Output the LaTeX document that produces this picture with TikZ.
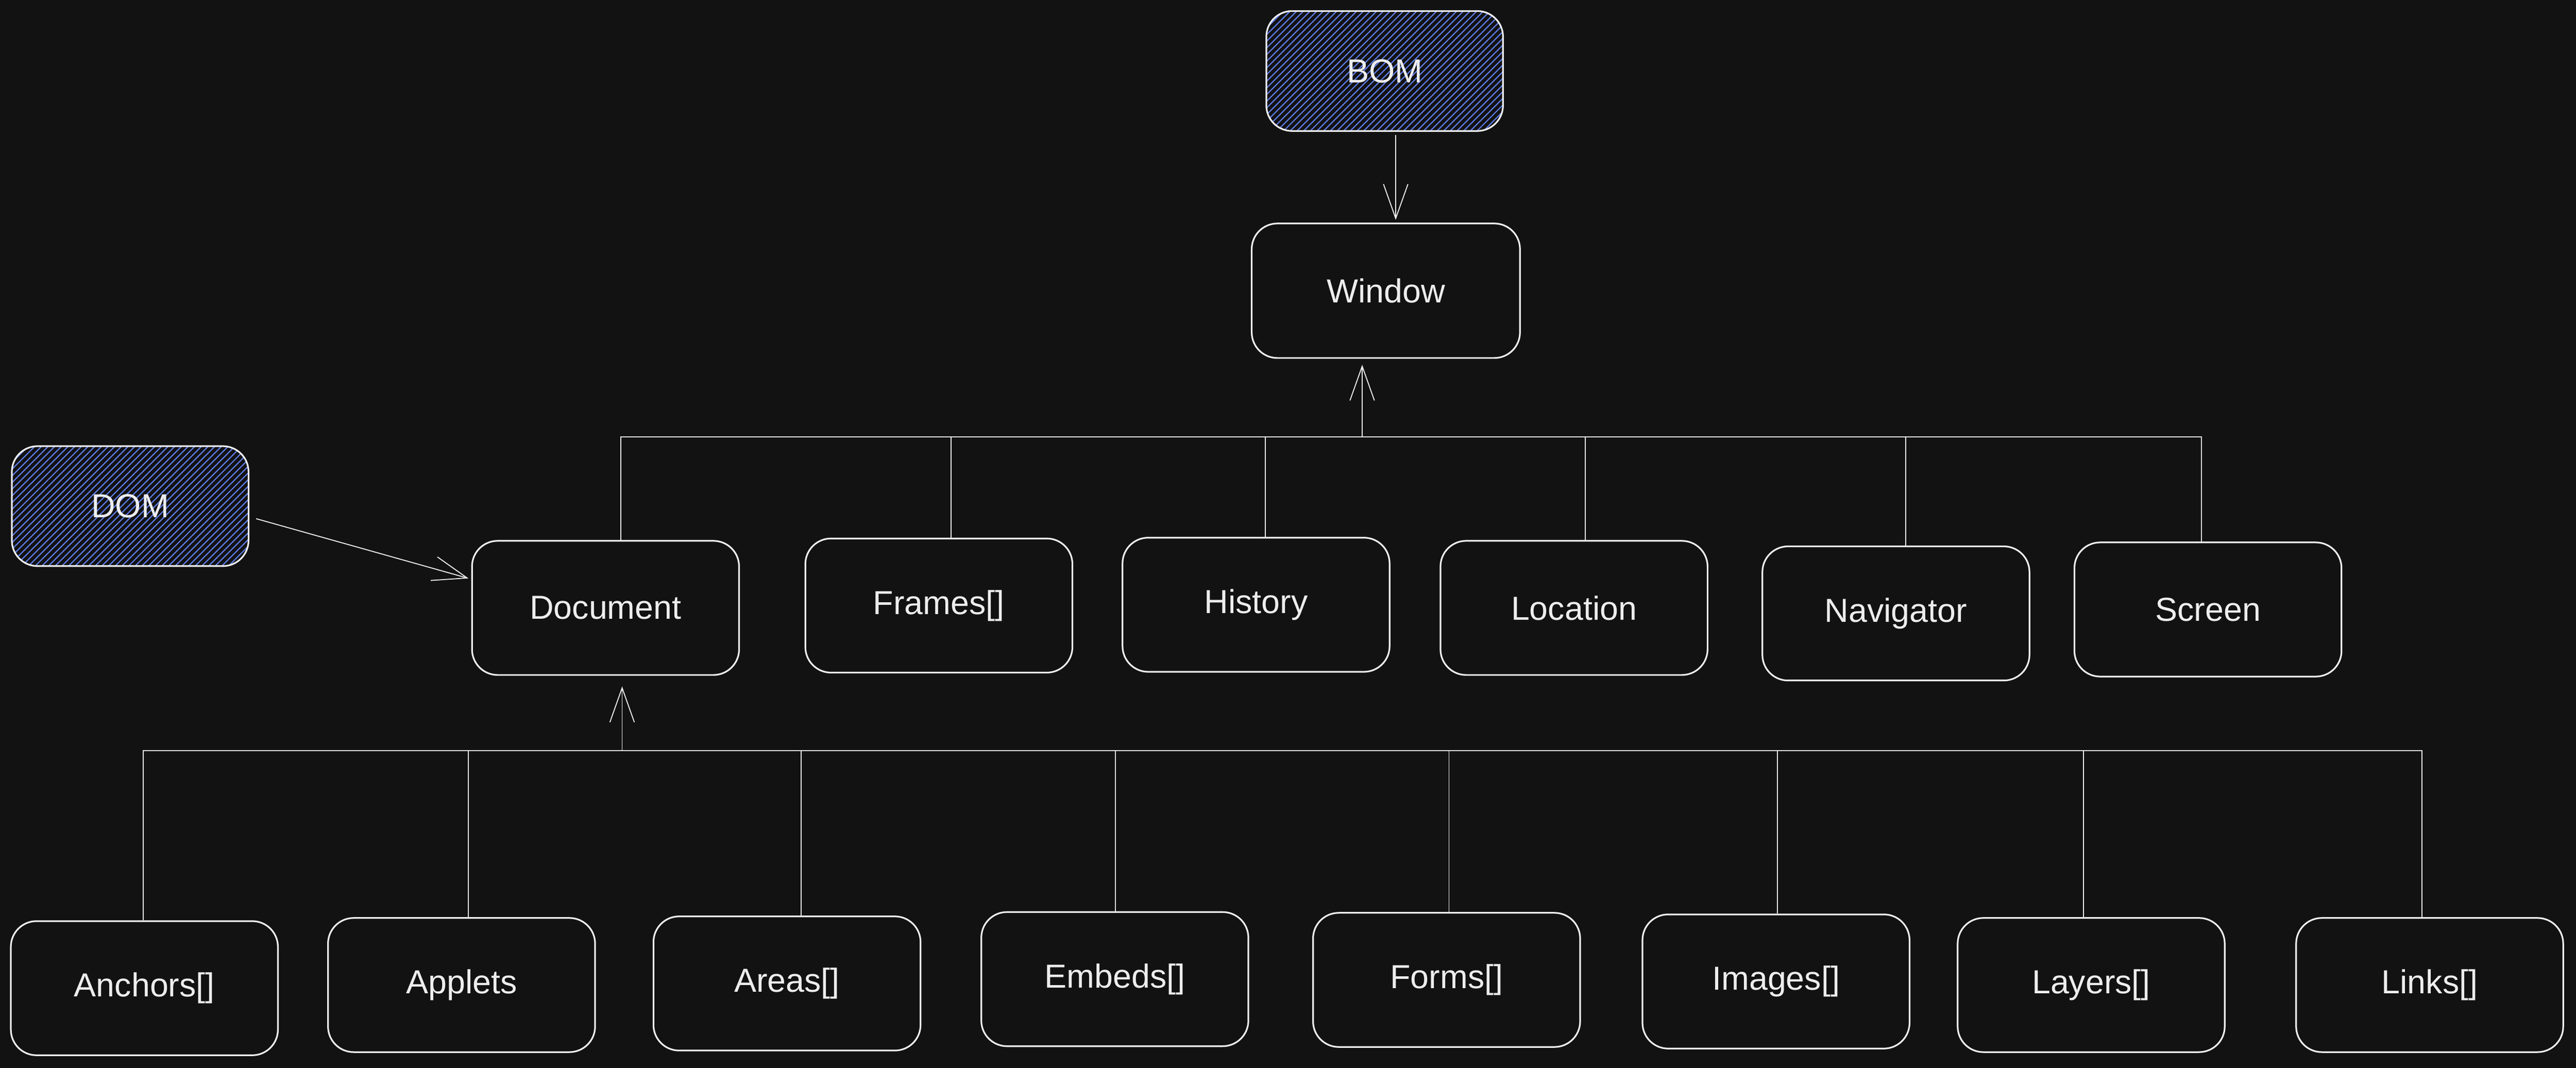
\documentclass[tikz,border=0pt]{standalone}
\usepackage{fontspec}
\setmainfont{Liberation Sans}
\usetikzlibrary{arrows.meta, patterns.meta}
\definecolor{bg}{HTML}{121212}
\definecolor{ink}{HTML}{EDEDED}
\definecolor{hatch}{HTML}{5E7BE6}

\begin{document}
\begin{tikzpicture}
\tikzstyle{every node}+=[font=\fontsize{24}{28}\selectfont, text=ink]
\tikzstyle{box}=[draw=ink, line width=1.2pt, rounded corners=0.65cm, minimum width=6.77cm, minimum height=3.40cm, inner sep=0pt]
\tikzstyle{hbox}=[box, minimum width=6.00cm, minimum height=3.04cm, pattern={Lines[angle=45,distance=3.4pt,line width=0.85pt]}, pattern color=hatch]
\tikzstyle{wire}=[draw=ink, line width=0.7pt]
\tikzstyle{arr}=[wire, -{Straight Barb[length=0.87cm,width=0.62cm]}]
\fill [bg] (0,0) rectangle (65.30,-27.07);
\useasboundingbox (0,0) rectangle (65.30,-27.07);
\node [hbox] (bom) at (35.10,-1.80) {BOM};
\node [box, minimum width=6.80cm, minimum height=3.41cm] (win) at (35.13,-7.37) {Window};
\node [hbox] (dom) at (3.30,-12.83) {DOM};
\node [box] (doc) at (15.35,-15.41) {Document};
\node [box] (frames) at (23.80,-15.35) {Frames[]};
\node [box] (hist) at (31.84,-15.33) {History};
\node [box] (loc) at (39.90,-15.41) {Location};
\node [box] (nav) at (48.06,-15.55) {Navigator};
\node [box] (scr) at (55.97,-15.45) {Screen};
\node [box] (anch) at (3.66,-25.05) {Anchors[]};
\node [box] (appl) at (11.70,-24.97) {Applets};
\node [box] (area) at (19.95,-24.93) {Areas[]};
\node [box] (emb) at (28.26,-24.82) {Embeds[]};
\node [box] (form) at (36.67,-24.84) {Forms[]};
\node [box] (img) at (45.02,-24.88) {Images[]};
\node [box] (lay) at (53.01,-24.97) {Layers[]};
\node [box] (link) at (61.59,-24.97) {Links[]};
\coordinate (wbus) at (34.53,-11.08);
\coordinate (dbus) at (15.77,-19.03);
\foreach \n/\dx in {doc/0.39, frames/0.31, hist/0.23, loc/0.29, nav/0.25, scr/-0.17}
  \draw [wire] (\n.north) ++(\dx,0) coordinate (top) |- (wbus);
\foreach \n/\dx in {anch/-0.03, appl/0.17, area/0.36, emb/0.02, form/0.06, img/0.04, lay/-0.20, link/-0.20}
  \draw [wire] (\n.north) ++(\dx,0) coordinate (top) |- (dbus);
\draw [arr, shorten >=0.15cm] (wbus) -- (wbus |- win.south);
\draw [arr, shorten >=0.27cm] (dbus) -- (dbus |- doc.south);
\draw [arr, shorten <=0.09cm, shorten >=0.07cm] (bom.south) ++(0.28,0) coordinate (bot) -- (bot |- win.north);
\draw [arr, shorten <=0.18cm, shorten >=0.07cm] ([yshift=-0.27cm]dom.east) -- ([yshift=0.73cm]doc.west);
\end{tikzpicture}
\end{document}
